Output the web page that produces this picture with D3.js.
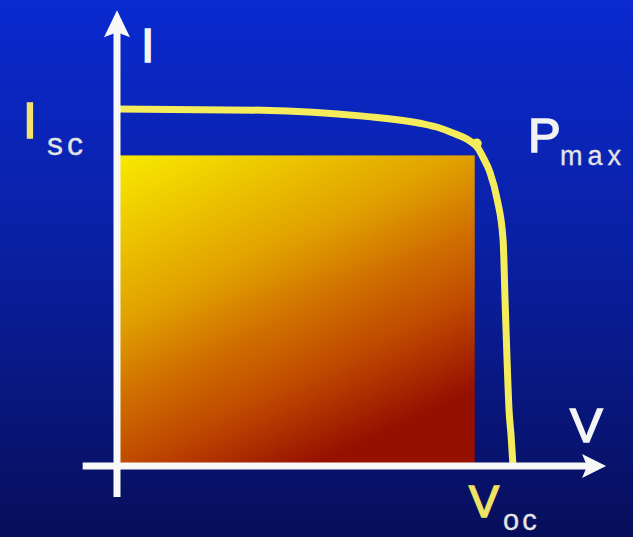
<!DOCTYPE html>
<html>
<head>
<meta charset="utf-8">
<script src="https://cdn.jsdelivr.net/npm/d3@7"></script>
<style>
html,body{margin:0;padding:0;background:#0a1f9e;}
svg{display:block;}
text{font-family:"Liberation Sans",Arial,sans-serif;}
</style>
</head>
<body>
<svg id="chart" width="633" height="537"></svg>
<script>
// ---- data (V in volts, I in amps) ----
const curveV = [0, 0.22, 0.373, 0.459, 0.489, 0.508, 0.535, 0.547, 0.555, 0.565, 0.576, 0.585, 0.588, 0.591, 0.594, 0.597, 0.600];
const curveI = [3.00, 2.99, 2.94, 2.88, 2.84, 2.80, 2.73, 2.67, 2.59, 2.47, 2.24, 1.90, 1.39, 0.89, 0.47, 0.26, 0.00];
const pmaxV = 0.542;   // rectangle corner (Vmp)
const pmaxI = 2.61;    // rectangle corner (Imp)
const dotV = 0.545;    // Pmax marker on the curve
const dotI = 2.71;
const axisV = [-0.052, 0.741];   // extent of V axis
const axisI = [-0.26, 3.83];     // extent of I axis

// ---- scales ----
const x = d3.scaleLinear().domain([0, 0.6]).range([117, 513]);
const y = d3.scaleLinear().domain([0, 3.0]).range([466, 109]);

const svg = d3.select("#chart");
const defs = svg.append("defs");

const bg = defs.append("linearGradient").attr("id", "bg")
  .attr("x1", 0).attr("y1", 0).attr("x2", 0).attr("y2", 1);
[[0, "#0a2ad0"], [0.45, "#0a20a4"], [1, "#070e5a"]].forEach(s =>
  bg.append("stop").attr("offset", s[0]).attr("stop-color", s[1]));

const rg = defs.append("linearGradient").attr("id", "rectGrad")
  .attr("x1", 0).attr("y1", 0).attr("x2", 0.55).attr("y2", 1);
[[0, "#f8ea00"], [0.42, "#e0a000"], [0.6, "#d07000"], [0.77, "#c04a00"], [1, "#961000"]].forEach(s =>
  rg.append("stop").attr("offset", s[0]).attr("stop-color", s[1]));

svg.append("rect").attr("width", 633).attr("height", 537).attr("fill", "url(#bg)");

// power rectangle
svg.append("rect")
  .attr("x", x(0)).attr("y", y(pmaxI))
  .attr("width", x(pmaxV) - x(0)).attr("height", y(0) - y(pmaxI))
  .attr("fill", "url(#rectGrad)");

// I-V curve
const pts = curveV.map((v, i) => [v, curveI[i]]);
svg.append("path")
  .attr("d", d3.line().x(d => x(d[0])).y(d => y(d[1])).curve(d3.curveMonotoneX)(pts))
  .attr("fill", "none").attr("stroke", "#f5ec5c").attr("stroke-width", 7)
  .attr("stroke-linejoin", "round");

svg.append("circle").attr("cx", x(dotV)).attr("cy", y(dotI)).attr("r", 5).attr("fill", "#f5ec5c");

// axes
const axisColor = "#f8f8f6";
svg.append("line")
  .attr("x1", x(0)).attr("x2", x(0)).attr("y1", y(axisI[0])).attr("y2", y(axisI[1]) + 20)
  .attr("stroke", axisColor).attr("stroke-width", 7);
svg.append("line")
  .attr("y1", y(0)).attr("y2", y(0)).attr("x1", x(axisV[0])).attr("x2", x(axisV[1]) - 18)
  .attr("stroke", axisColor).attr("stroke-width", 7);

// arrowheads
const tx = x(0), ty = y(axisI[1]);
svg.append("path")
  .attr("d", `M${tx},${ty} L${tx + 13},${ty + 27} L${tx},${ty + 22} L${tx - 13},${ty + 27} Z`)
  .attr("fill", axisColor);
const ax = x(axisV[1]), ay = y(0);
svg.append("path")
  .attr("d", `M${ax},${ay} L${ax - 24},${ay - 12} L${ax - 19},${ay} L${ax - 24},${ay + 12} Z`)
  .attr("fill", axisColor);

// labels
function label(txt, px, py, size, color, ls) {
  return svg.append("text").attr("x", px).attr("y", py)
    .attr("font-size", size).attr("fill", color)
    .attr("stroke", color).attr("stroke-width", size > 40 ? 1.6 : 0.3)
    .attr("letter-spacing", ls || 0).text(txt);
}
label("I", 141, 62, 48, "#f4f4f4");
label("I", 23, 138, 50, "#f2e46c");
label("sc", 47, 155, 32, "#e4e4e4", 4);
label("P", 528, 152, 49, "#f2f2f2");
label("max", 560, 165, 27, "#e4e4e4", 5);
label("V", 570, 442, 49, "#f4f4f4");
label("V", 469, 517, 45, "#f0e262");
label("oc", 503, 530, 29, "#e4e4e4", 3);
</script>
</body>
</html>
